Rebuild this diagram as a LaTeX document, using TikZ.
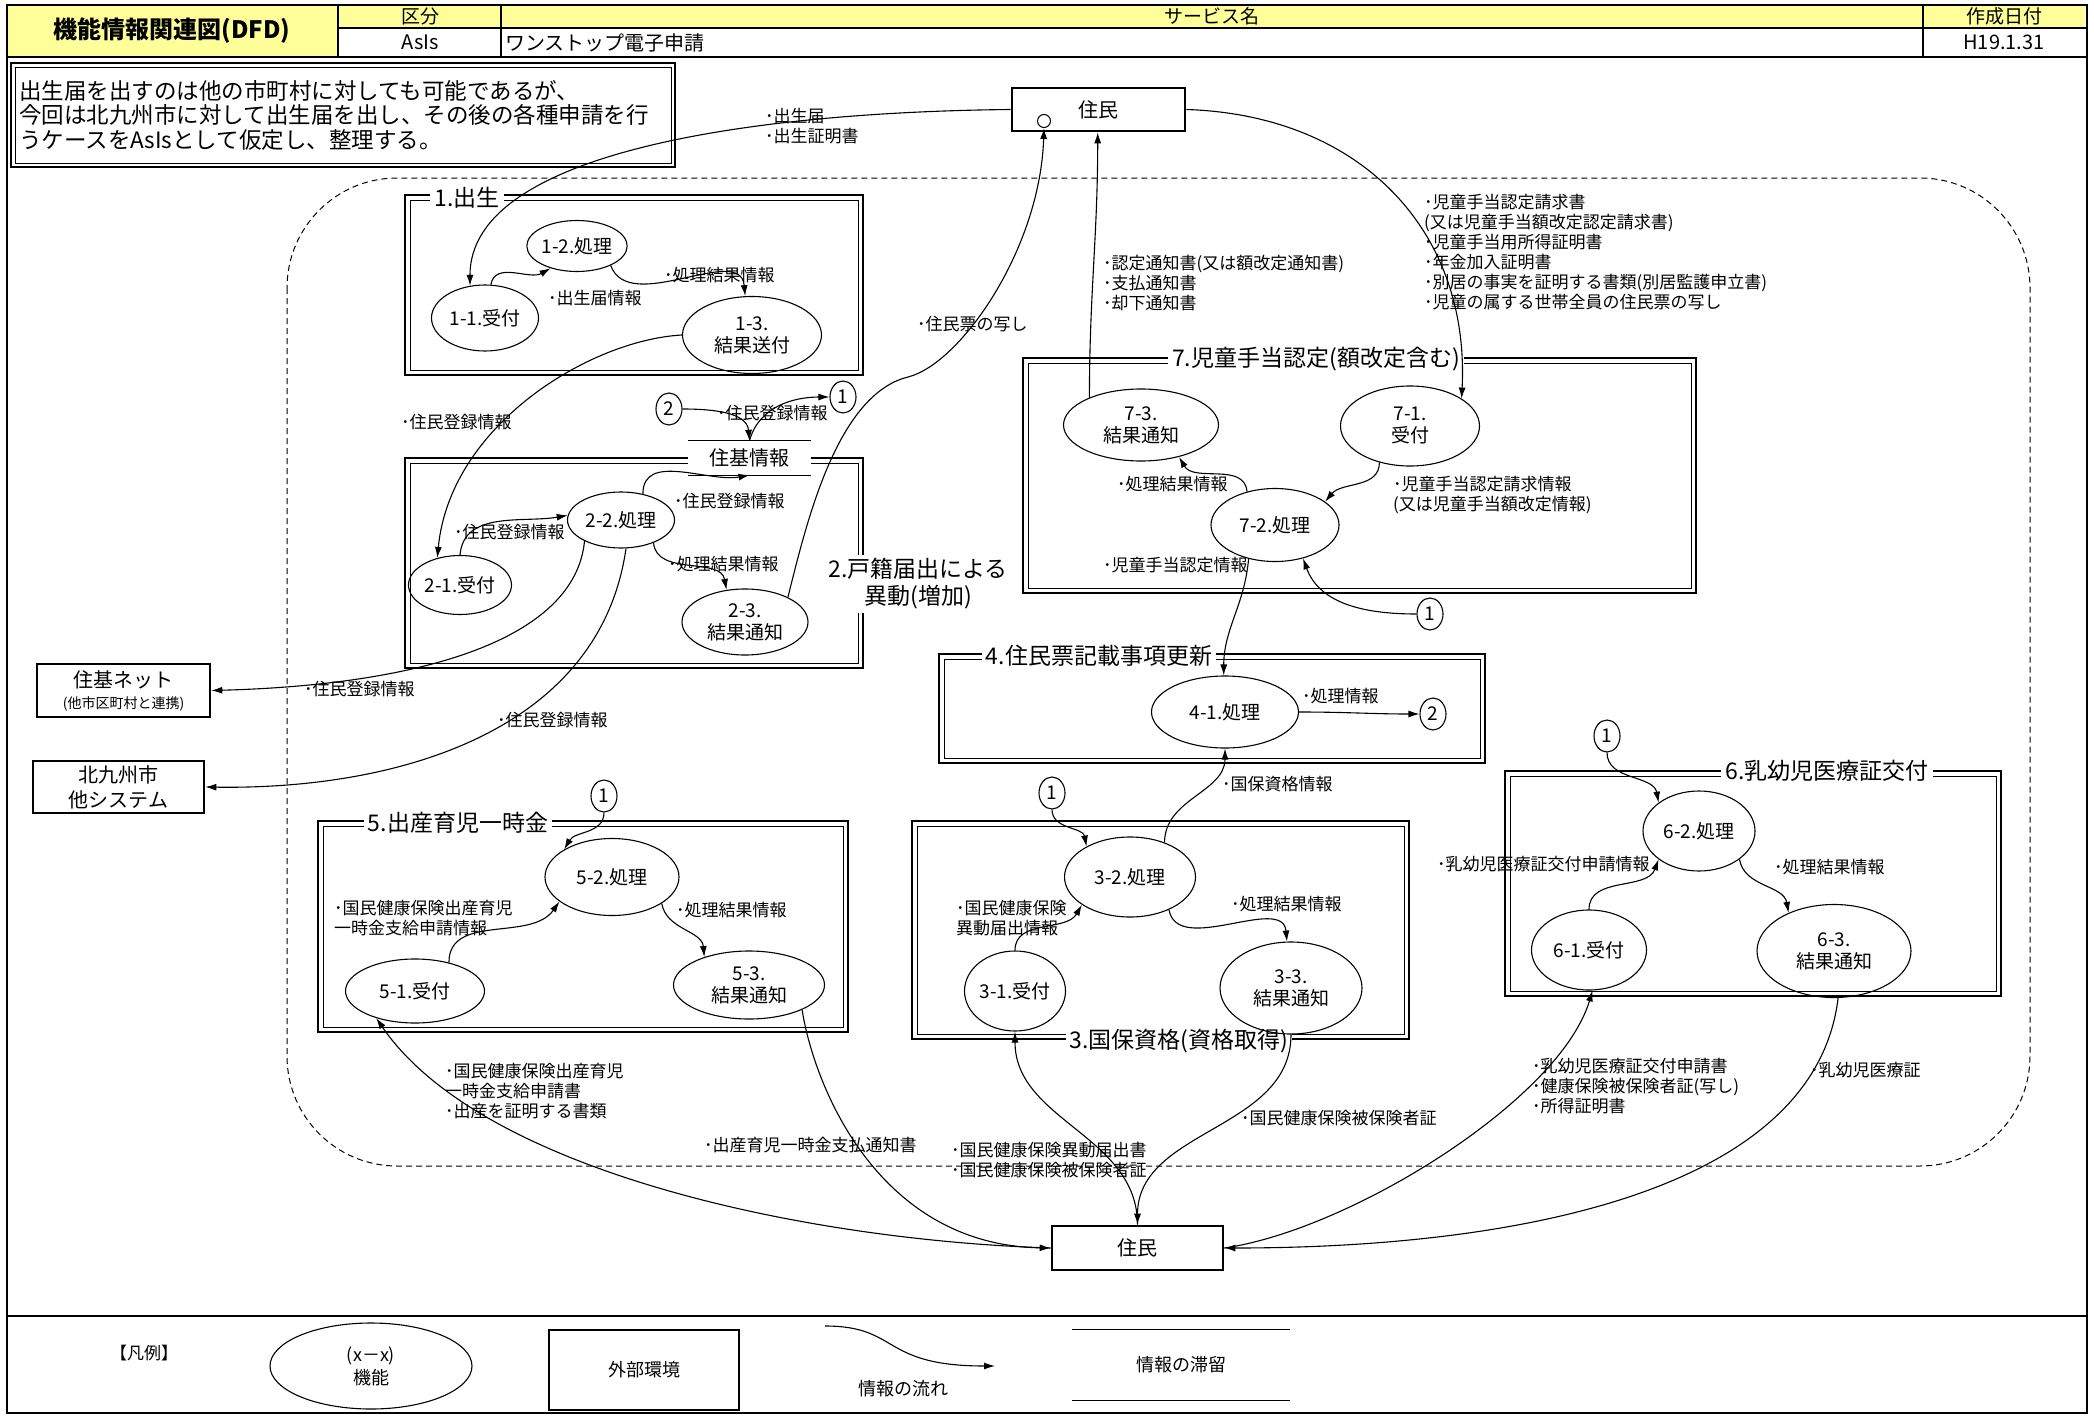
\documentclass[tikz,border=0pt]{standalone}
\usepackage{fontspec}
\setmainfont{Noto Sans CJK JP}
\usetikzlibrary{arrows.meta,shapes.geometric}
\definecolor{hdr}{RGB}{255,255,153}
\newcommand\dblbox[4]{%
  \draw[line width=2.4pt] (#1,-#2) rectangle (#3,-#4);
  \draw[line width=0.9pt] ({#1+5},{-#2-5}) rectangle ({#3-5},{-#4+5});}
\begin{document}
\begin{tikzpicture}[x=1pt,y=1pt,
  proc/.style={ellipse, draw, line width=1.1pt, inner sep=0pt, align=center, font=\fontsize{19}{22}\selectfont},
  ext/.style={draw, line width=2.6pt, inner sep=0pt, align=center, font=\fontsize{20}{24}\selectfont},
  cn/.style={ellipse, draw, line width=1.1pt, minimum width=26pt, minimum height=32pt, inner sep=0pt, font=\fontsize{19}{20}\selectfont},
  flow/.style={line width=1.1pt, -{Latex[length=11pt,width=7pt]}},
  lbl/.style={anchor=north west, inner sep=0pt, align=left, font=\fontsize{17}{20}\selectfont},
  gtitle/.style={fill=white, inner sep=4pt, align=center, font=\fontsize{23}{27}\selectfont},
  hd/.style={font=\fontsize{19}{21}\selectfont, inner sep=0pt}]
\useasboundingbox (0,0) rectangle (2094,-1418);
\fill[white] (0,0) rectangle (2094,-1418);

% ---------- header ----------
\fill[hdr] (7,-5) rectangle (2085,-28);
\fill[hdr] (7,-5) rectangle (338,-57);
\draw[line width=1.6pt] (7,-5) rectangle (2087,-1413);
\draw[line width=2.6pt] (7,-5) -- (2087,-5);
\draw[line width=2.6pt] (7,-57) -- (2087,-57);
\draw[line width=1.2pt] (338,-28) -- (2087,-28);
\draw[line width=1.2pt] (338,-5) -- (338,-57) (501,-5) -- (501,-57) (1923,-5) -- (1923,-57);
\draw[line width=2.6pt] (7,-1316) -- (2087,-1316);
\node[font=\bfseries\fontsize{24}{26}\selectfont] (htitle) at (172,-31) {機能情報関連図(DFD)};
\node[hd] (h1) at (420,-16.5) {区分};
\node[hd] (h2) at (1212,-16.5) {サービス名};
\node[hd] (h3) at (2004,-16.5) {作成日付};
\node[hd, font=\fontsize{20}{22}\selectfont] (h4) at (420,-42.5) {AsIs};
\node[hd, anchor=west, font=\fontsize{20}{22}\selectfont] (h5) at (505,-42.5) {ワンストップ電子申請};
\node[hd, font=\fontsize{20}{22}\selectfont] (h6) at (2004,-42.5) {H19.1.31};

% ---------- note ----------
\draw[line width=2pt] (11,-63) rectangle (675,-167);
\draw[line width=0.9pt] (15,-67) rectangle (671,-163);
\node[anchor=north west, inner sep=0pt, align=left, font=\fontsize{22.5}{24.5}\selectfont] (note) at (19,-80)
 {出生届を出すのは他の市町村に対しても可能であるが、\\今回は北九州市に対して出生届を出し、その後の各種申請を行\\うケースをAsIsとして仮定し、整理する。};

% ---------- dashed system boundary ----------
\draw[line width=1pt, dash pattern=on 6pt off 4pt, rounded corners=110pt] (287,-178) rectangle (2030,-1166);

% ---------- group boxes ----------
\dblbox{405}{195}{863}{375}
\dblbox{405}{458}{863}{668}
\dblbox{1023}{358}{1696}{593}
\dblbox{939}{654}{1485}{763}
\dblbox{318}{821}{848}{1032}
\dblbox{912}{821}{1409}{1039}
\dblbox{1505}{771}{2001}{996}
\node[gtitle] (g1) at (467,-198) {1.出生};
\node[gtitle] (g2) at (918,-584) {2.戸籍届出による\\異動(増加)};
\node[gtitle] (g7) at (1316,-359) {7.児童手当認定(額改定含む)};
\node[gtitle] (g4) at (1099,-656) {4.住民票記載事項更新};
\node[gtitle] (g5) at (458,-823) {5.出産育児一時金};
\node[gtitle] (g3) at (1179,-1041) {3.国保資格(資格取得)};
\node[gtitle] (g6) at (1827,-771) {6.乳幼児医療証交付};

% data store
\node[fill=white, inner sep=0pt, minimum width=123pt, minimum height=34pt, font=\fontsize{20}{24}\selectfont] (jk) at (749.5,-458) {住基情報};
\draw[line width=1.1pt] (jk.north west) -- (jk.north east) (jk.south west) -- (jk.south east);

% ---------- external entities ----------
\node[ext, minimum width=173pt, minimum height=43pt] (Rt) at (1098.5,-109.5) {住民};
\node[circle, draw, line width=1pt, minimum size=13pt, inner sep=0pt] (rtc) at (1044,-121) {};
\node[ext, minimum width=171pt, minimum height=44pt] (Rb) at (1137.5,-1248) {住民};
\node[ext, minimum width=173pt, minimum height=53pt] (zb) at (123.5,-690.5) {住基ネット\\[-3pt]{\fontsize{14}{16}\selectfont (他市区町村と連携)}};
\node[ext, minimum width=171pt, minimum height=52pt, font=\fontsize{20}{25}\selectfont] (kk) at (118.5,-787) {北九州市\\他システム};

% ---------- processes ----------
\node[proc, minimum width=100pt, minimum height=51pt] (n12) at (577,-246) {1-2.処理};
\node[proc, minimum width=107pt, minimum height=66pt] (n11) at (485,-318) {1-1.受付};
\node[proc, minimum width=139pt, minimum height=77pt] (n13) at (752,-335) {1-3.\\結果送付};
\node[proc, minimum width=107pt, minimum height=56pt] (n22) at (621,-520) {2-2.処理};
\node[proc, minimum width=103pt, minimum height=59pt] (n21) at (460,-585) {2-1.受付};
\node[proc, minimum width=126pt, minimum height=66pt] (n23) at (745,-622) {2-3.\\結果通知};
\node[proc, minimum width=155pt, minimum height=72pt] (n73) at (1141,-425) {7-3.\\結果通知};
\node[proc, minimum width=139pt, minimum height=80pt] (n71) at (1410,-426) {7-1.\\受付};
\node[proc, minimum width=128pt, minimum height=73pt] (n72) at (1275,-525) {7-2.処理};
\node[proc, minimum width=147pt, minimum height=72pt] (n41) at (1225,-712) {4-1.処理};
\node[proc, minimum width=134pt, minimum height=77pt] (n52) at (612,-877) {5-2.処理};
\node[proc, minimum width=139pt, minimum height=64pt] (n51) at (415,-991) {5-1.受付};
\node[proc, minimum width=151pt, minimum height=68pt] (n53) at (749,-985) {5-3.\\結果通知};
\node[proc, minimum width=131pt, minimum height=80pt] (n32) at (1130,-877) {3-2.処理};
\node[proc, minimum width=101pt, minimum height=80pt] (n31) at (1015,-991) {3-1.受付};
\node[proc, minimum width=142pt, minimum height=92pt] (n33) at (1291,-988) {3-3.\\結果通知};
\node[proc, minimum width=112pt, minimum height=80pt] (n62) at (1699,-831) {6-2.処理};
\node[proc, minimum width=115pt, minimum height=80pt] (n61) at (1589,-950) {6-1.受付};
\node[proc, minimum width=154pt, minimum height=93pt] (n63) at (1834,-951) {6-3.\\結果通知};

% connectors (circles)
\node[cn] (c2a) at (669,-409) {2};
\node[cn] (c1a) at (843,-397) {1};
\node[cn] (c1g) at (1430,-614) {1};
\node[cn] (c2b) at (1433,-714) {2};
\node[cn] (c1b) at (604,-796) {1};
\node[cn] (c1c) at (1052,-793) {1};
\node[cn] (c1d) at (1607,-736) {1};

% ---------- flows ----------
\draw[flow] (Rt.west) .. controls (760,-112) and (470,-150) .. (n11.115);
\draw[flow] (n11.80) to[out=80,in=210] (n12.220);
\draw[flow] (n12.-30) to[out=-70,in=95] (n13.100);
\draw[flow] (n13.west) .. controls (590,-340) and (450,-425) .. (n21.130);
\draw[flow] (n21.north) to[out=85,in=190] (n22.175);
\draw[flow] (n22.50) to[out=90,in=190] (jk.south);
\draw[flow] (c2a.east) to[out=0,in=95] (jk.north);
\draw[flow] (jk.north) to[out=75,in=180] (c1a.west);
\draw[flow] (n22.-35) to[out=-85,in=100] (n23.120);
\draw[flow] (n23.30) .. controls (805,-530) and (835,-395) .. (908,-377) .. controls (960,-364) and (1040,-250) .. (rtc.south);
\draw[flow] (n22.210) .. controls (575,-640) and (420,-685) .. (zb.east);
\draw[flow] (n22.-80) .. controls (600,-730) and (400,-790) .. (kk.east);
\draw[flow] (n73.152) to[out=90,in=-90] (Rt.-92);
\draw[flow] (Rt.east) .. controls (1360,-115) and (1470,-230) .. (n71.28);
\draw[flow] (n71.-130) to[out=-90,in=50] (n72.25);
\draw[flow] (n72.130) to[out=95,in=-60] (n73.-40);
\draw[flow] (c1g.west) to[out=180,in=-70] (n72.-50);
\draw[flow] (n72.-128) to[out=-95,in=90] (n41.92);
\draw[flow] (n41.east) to[out=0,in=180] (c2b.west);
\draw[flow] (n32.45) to[out=90,in=-90] (n41.south);
\draw[flow] (c1c.south) to[out=-90,in=100] (n32.145);
\draw[flow] (n31.north) to[out=90,in=240] (n32.-150);
\draw[flow] (n32.-40) to[out=-80,in=95] (n33.95);
\draw[flow] (n51.40) to[out=90,in=235] (n52.-155);
\draw[flow] (c1b.south) to[out=-90,in=60] (n52.150);
\draw[flow] (n52.-28) to[out=-80,in=95] (n53.148);
\draw[flow] (Rb.west) .. controls (800,-1240) and (480,-1170) .. (n51.-145);
\draw[flow] (n53.-25) .. controls (815,-1090) and (880,-1245) .. (Rb.west);
\draw[flow] (Rb.north) to[out=90,in=-90] (n31.south);
\draw[flow] (n33.south) to[out=-90,in=90] (Rb.north);
\draw[flow] (Rb.east) .. controls (1350,-1230) and (1560,-1100) .. (n61.-85);
\draw[flow] (n63.-85) .. controls (1815,-1190) and (1520,-1248) .. (Rb.east);
\draw[flow] (n61.north) to[out=90,in=250] (n62.-145);
\draw[flow] (c1d.south) to[out=-90,in=100] (n62.145);
\draw[flow] (n62.-35) to[out=-80,in=100] (n63.140);

% ---------- labels ----------
\node[lbl] (L1) at (765,-108) {･出生届\\･出生証明書};
\node[lbl] (L2) at (548,-290) {･出生届情報};
\node[lbl] (L3) at (664,-267) {･処理結果情報};
\node[lbl] (L4) at (401,-414) {･住民登録情報};
\node[lbl] (L5) at (454,-524) {･住民登録情報};
\node[lbl] (L6) at (674,-493) {･住民登録情報};
\node[lbl] (L7) at (668,-556) {･処理結果情報};
\node[lbl] (L8) at (717,-405) {･住民登録情報};
\node[lbl] (L9) at (917,-316) {･住民票の写し};
\node[lbl] (L10) at (304,-681) {･住民登録情報};
\node[lbl] (L11) at (497,-712) {･住民登録情報};
\node[lbl] (L12) at (1103,-255) {･認定通知書(又は額改定通知書)\\･支払通知書\\･却下通知書};
\node[lbl] (L13) at (1424,-194) {･児童手当認定請求書\\(又は児童手当額改定認定請求書)\\･児童手当用所得証明書\\･年金加入証明書\\･別居の事実を証明する書類(別居監護申立書)\\･児童の属する世帯全員の住民票の写し};
\node[lbl] (L14) at (1393,-476) {･児童手当認定請求情報\\(又は児童手当額改定情報)};
\node[lbl] (L15) at (1117,-476) {･処理結果情報};
\node[lbl] (L16) at (1103,-557) {･児童手当認定情報};
\node[lbl] (L17) at (1302,-688) {･処理情報};
\node[lbl] (L18) at (1222,-776) {･国保資格情報};
\node[lbl] (L19) at (956,-900) {･国民健康保険\\異動届出情報};
\node[lbl] (L20) at (1231,-896) {･処理結果情報};
\node[lbl] (L21) at (334,-900) {･国民健康保険出産育児\\一時金支給申請情報};
\node[lbl] (L22) at (676,-902) {･処理結果情報};
\node[lbl] (L23) at (445,-1063) {･国民健康保険出産育児\\一時金支給申請書\\･出産を証明する書類};
\node[lbl] (L24) at (704,-1137) {･出産育児一時金支払通知書};
\node[lbl] (L25) at (951,-1142) {･国民健康保険異動届出書\\･国民健康保険被保険者証};
\node[lbl] (L26) at (1241,-1110) {･国民健康保険被保険者証};
\node[lbl] (L27) at (1532,-1058) {･乳幼児医療証交付申請書\\･健康保険被保険者証(写し)\\･所得証明書};
\node[lbl] (L28) at (1810,-1062) {･乳幼児医療証};
\node[lbl] (L29) at (1437,-856) {･乳幼児医療証交付申請情報};
\node[lbl] (L30) at (1774,-859) {･処理結果情報};

% ---------- legend ----------
\node[font=\fontsize{17}{20}\selectfont] (lgt) at (144,-1353) {【凡例】};
\node[proc, minimum width=202pt, minimum height=86pt, font=\fontsize{18}{23}\selectfont] (lge) at (371,-1366) {(x－x)\\機能};
\node[draw, line width=1.2pt, minimum width=190pt, minimum height=80pt, font=\fontsize{18}{20}\selectfont] (lgb) at (644,-1370) {外部環境};
\coordinate (lgA) at (825,-1326);
\coordinate (lgB) at (995,-1366);
\draw[flow] (lgA) .. controls (900,-1326) and (880,-1366) .. (lgB);
\node[font=\fontsize{18}{20}\selectfont] (lgf) at (903,-1389) {情報の流れ};
\node[inner sep=0pt, minimum width=217pt, minimum height=70pt, font=\fontsize{18}{20}\selectfont] (lgs) at (1181,-1365) {情報の滞留};
\draw[line width=1.2pt] (lgs.north west) -- (lgs.north east) (lgs.south west) -- (lgs.south east);
\end{tikzpicture}
\end{document}
